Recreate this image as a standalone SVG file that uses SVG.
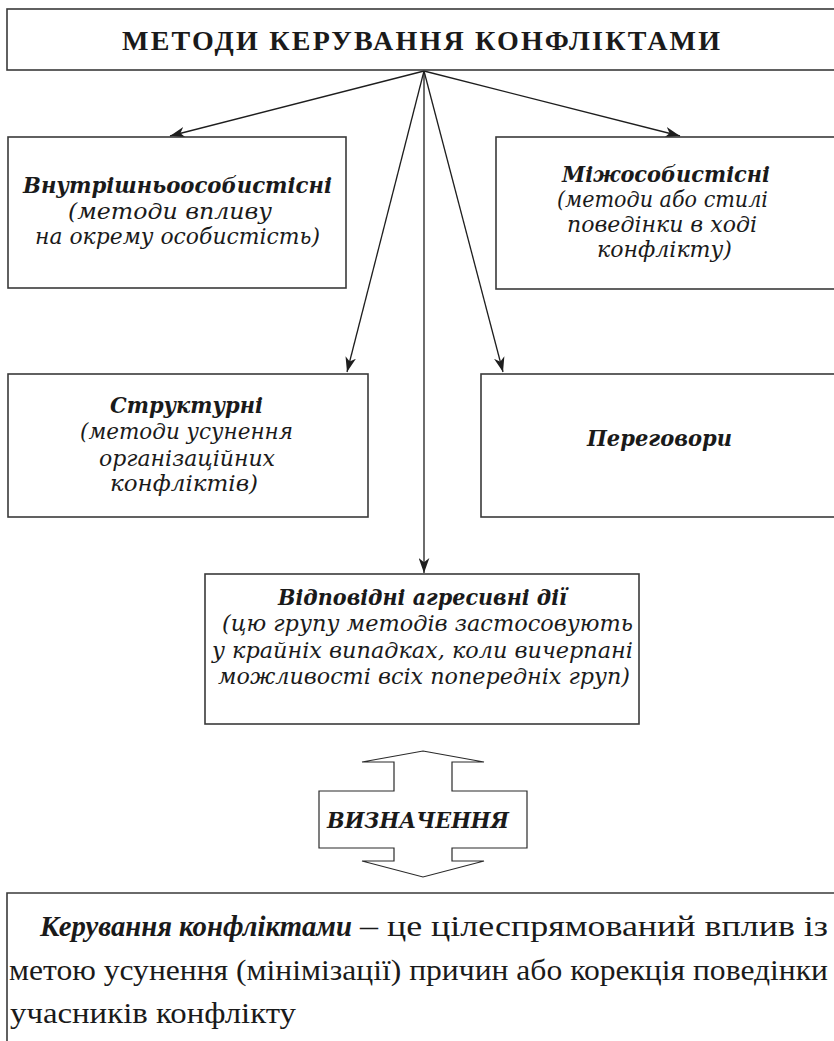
<svg xmlns="http://www.w3.org/2000/svg" width="834" height="1041" viewBox="0 0 834 1041">
  <style>
    .box{fill:#ffffff;stroke:#3a3a3a;stroke-width:1.6}
    .edge{fill:none;stroke:#1e1e1e;stroke-width:1.3}
    .t{font-family:"DejaVu Serif","Liberation Serif",serif;font-style:italic;font-size:23px;fill:#1a1a1a;text-anchor:middle}
    .b{font-weight:bold}
    .title{font-family:"Liberation Serif","DejaVu Serif",serif;font-weight:bold;font-size:28px;fill:#1a1a1a;text-anchor:middle}
    .body{font-family:"Liberation Serif","DejaVu Serif",serif;font-size:29px;fill:#1a1a1a}
    .dbl{fill:#ffffff;stroke:#2a2a2a;stroke-width:1.2;stroke-linejoin:miter}
  </style>
  <defs>
    <marker id="head" viewBox="0 0 14 10" refX="14" refY="5" markerWidth="15" markerHeight="11" markerUnits="userSpaceOnUse" orient="auto">
      <path d="M0,0 L14,5 L0,10 L4,5 Z" fill="#1e1e1e"/>
    </marker>
  </defs>

  <rect width="834" height="1041" fill="#ffffff"/>

  <!-- connectors from the title box -->
  <g id="connectors">
    <line class="edge" x1="424" y1="71" x2="170" y2="136" marker-end="url(#head)"/>
    <line class="edge" x1="424" y1="71" x2="680" y2="136" marker-end="url(#head)"/>
    <line class="edge" x1="424" y1="71" x2="347" y2="372" marker-end="url(#head)"/>
    <line class="edge" x1="424" y1="71" x2="503" y2="372" marker-end="url(#head)"/>
    <line class="edge" x1="424" y1="71" x2="424" y2="573" marker-end="url(#head)"/>
  </g>

  <g id="title">
    <rect class="box" x="7" y="9" width="840" height="61"/>
    <text class="title" x="421" y="50" textLength="598" lengthAdjust="spacing">МЕТОДИ КЕРУВАННЯ КОНФЛІКТАМИ</text>
  </g>

  <g id="intrapersonal">
    <rect class="box" x="8" y="137" width="338" height="151"/>
    <text class="t b" x="177.5" y="193" textLength="309" lengthAdjust="spacingAndGlyphs">Внутрішньоособистісні</text>
    <text class="t" x="170" y="219" textLength="204" lengthAdjust="spacingAndGlyphs">(методи впливу</text>
    <text class="t" x="177.5" y="244" textLength="285" lengthAdjust="spacingAndGlyphs">на окрему особистість)</text>
  </g>

  <g id="interpersonal">
    <rect class="box" x="496" y="137" width="350" height="152"/>
    <text class="t b" x="666" y="182" textLength="208" lengthAdjust="spacingAndGlyphs">Міжособистісні</text>
    <text class="t" x="662.5" y="207" textLength="211" lengthAdjust="spacingAndGlyphs">(методи або стилі</text>
    <text class="t" x="662" y="232" textLength="190" lengthAdjust="spacingAndGlyphs">поведінки в ході</text>
    <text class="t" x="664.5" y="257" textLength="135" lengthAdjust="spacingAndGlyphs">конфлікту)</text>
  </g>

  <g id="structural">
    <rect class="box" x="8" y="374" width="360" height="143"/>
    <text class="t b" x="186.5" y="413" textLength="153" lengthAdjust="spacingAndGlyphs">Структурні</text>
    <text class="t" x="186.5" y="439" textLength="213" lengthAdjust="spacingAndGlyphs">(методи усунення</text>
    <text class="t" x="187" y="466" textLength="176" lengthAdjust="spacingAndGlyphs">організаційних</text>
    <text class="t" x="184" y="491" textLength="148" lengthAdjust="spacingAndGlyphs">конфліктів)</text>
  </g>

  <g id="negotiations">
    <rect class="box" x="481" y="374" width="365" height="143"/>
    <text class="t b" x="659.5" y="446" textLength="145" lengthAdjust="spacingAndGlyphs">Переговори</text>
  </g>

  <g id="aggressive">
    <rect class="box" x="205" y="574" width="434" height="150"/>
    <text class="t b" x="422.5" y="605" textLength="289" lengthAdjust="spacingAndGlyphs">Відповідні агресивні дії</text>
    <text class="t" x="427.5" y="631" textLength="411" lengthAdjust="spacingAndGlyphs">(цю групу методів застосовують</text>
    <text class="t" x="422.5" y="658" textLength="421" lengthAdjust="spacingAndGlyphs">у крайніх випадках, коли вичерпані</text>
    <text class="t" x="424" y="684" textLength="412" lengthAdjust="spacingAndGlyphs">можливості всіх попередніх груп)</text>
  </g>

  <g id="definition-arrow">
    <path class="dbl" d="M423,751 L484,762 L452,762 L452,791 L527,791 L527,848 L452,848 L452,861 L484,861 L423,877 L362,861 L394,861 L394,848 L319,848 L319,791 L394,791 L394,762 L362,762 Z"/>
    <text class="t b" x="418" y="828" font-size="25" textLength="182" lengthAdjust="spacingAndGlyphs">ВИЗНАЧЕННЯ</text>
  </g>

  <g id="definition">
    <path class="box" d="M847,893 L7,893 L7,1045"/>
    <text class="body" x="40" y="936" font-weight="bold" font-style="italic" textLength="312" lengthAdjust="spacingAndGlyphs">Керування конфліктами</text>
    <text class="body" x="360" y="936" textLength="468" lengthAdjust="spacingAndGlyphs">– це цілеспрямований вплив із</text>
    <text class="body" x="9" y="980" textLength="819" lengthAdjust="spacingAndGlyphs">метою усунення (мінімізації) причин або корекція поведінки</text>
    <text class="body" x="10" y="1023" textLength="286" lengthAdjust="spacingAndGlyphs">учасників конфлікту</text>
  </g>
</svg>
